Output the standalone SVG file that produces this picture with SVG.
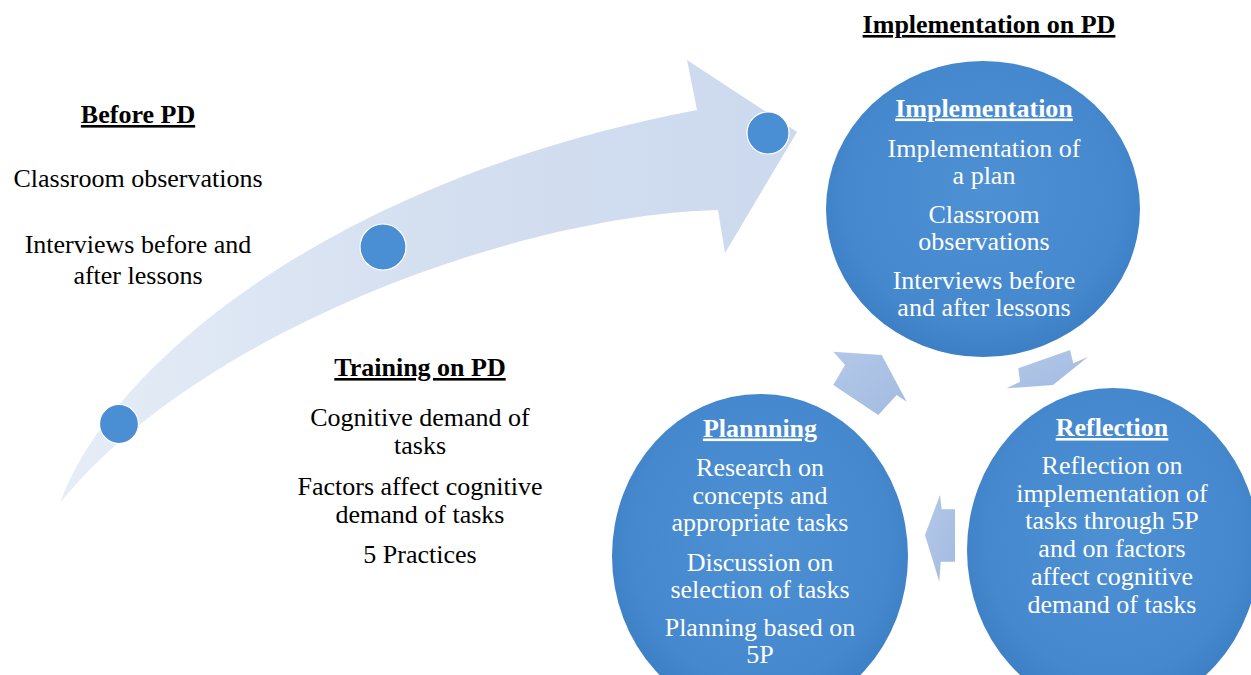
<svg xmlns="http://www.w3.org/2000/svg" width="1251" height="675" viewBox="0 0 1251 675">
<defs>
<linearGradient id="bigArrow" x1="60" y1="0" x2="800" y2="0" gradientUnits="userSpaceOnUse">
<stop offset="0" stop-color="#e6edf7"/>
<stop offset="0.5" stop-color="#d4dff0"/>
<stop offset="1" stop-color="#ccd9ee"/>
</linearGradient>
<radialGradient id="circ" cx="0.5" cy="0.45" r="0.55">
<stop offset="0" stop-color="#4d90d3"/>
<stop offset="0.8" stop-color="#4688ce"/>
<stop offset="1" stop-color="#3c7fc4"/>
</radialGradient>
<linearGradient id="cyc" x1="0" y1="0" x2="1" y2="1">
<stop offset="0" stop-color="#b3c8e8"/>
<stop offset="1" stop-color="#a3bbe2"/>
</linearGradient>
</defs>
<style>
text { font-family: "Liberation Serif", "Times New Roman", serif; font-size: 26px; text-anchor: middle; }
.dark { fill: #000000; }
.light { fill: #ffffff; }
.title { font-weight: bold; text-decoration: underline; }
.dot { fill: #4a8ed3; stroke: #ffffff; stroke-width: 1.2; }
.circle { fill: url(#circ); }
.cyc { fill: url(#cyc); }
</style>
<rect width="1251" height="675" fill="#ffffff"/>

<g id="timeline-arrow">
<path d="M60,503 C110,365 330,180 697,110 L687,60 L797,132 L725,253 L718,210 C520,215 200,330 60,503 Z" fill="url(#bigArrow)"/>
<circle class="dot" cx="119" cy="424" r="19.5"/>
<circle class="dot" cx="383" cy="247" r="23"/>
<circle class="dot" cx="768" cy="133" r="21"/>
</g>

<g id="connectors">
<polygon class="cyc" points="833.3,385 845,365 833.3,351.7 881.7,355 906.7,401.7 896.7,395 878.3,415"/>
<polygon class="cyc" points="1018.3,368.3 1070,350 1073.3,363.3 1088.3,356.7 1053,385 1006.7,388.3 1020,381.7"/>
<polygon class="cyc" points="925,535 940,495 941.7,509.3 955,509.3 955,561.7 940.7,561.7 939.3,581.7"/>
</g>

<g id="before-pd">
<text class="dark title" x="138" y="123">Before PD</text>
<text class="dark" x="138" y="187">Classroom observations</text>
<text class="dark" x="138" y="252.5">Interviews before and</text>
<text class="dark" x="138" y="284">after lessons</text>
</g>

<g id="training-pd">
<text class="dark title" x="420" y="376">Training on PD</text>
<text class="dark" x="420" y="426">Cognitive demand of</text>
<text class="dark" x="420" y="453.5">tasks</text>
<text class="dark" x="420" y="495">Factors affect cognitive</text>
<text class="dark" x="420" y="523">demand of tasks</text>
<text class="dark" x="420" y="563">5 Practices</text>
</g>

<g id="implementation-on-pd">
<text class="dark title" x="989" y="33">Implementation on PD</text>
</g>

<g id="node-implementation">
<ellipse class="circle" cx="983" cy="209" rx="157" ry="148"/>
<text class="light title" x="984" y="116.5">Implementation</text>
<text class="light" x="984" y="156.5">Implementation of</text>
<text class="light" x="984" y="183.5">a plan</text>
<text class="light" x="984" y="222.5">Classroom</text>
<text class="light" x="984" y="249.5">observations</text>
<text class="light" x="984" y="288.5">Interviews before</text>
<text class="light" x="984" y="316">and after lessons</text>
</g>

<g id="node-planning">
<ellipse class="circle" cx="760" cy="556" rx="148" ry="162"/>
<text class="light title" x="760" y="436.5">Plannning</text>
<text class="light" x="760" y="476">Research on</text>
<text class="light" x="760" y="504">concepts and</text>
<text class="light" x="760" y="531">appropriate tasks</text>
<text class="light" x="760" y="570.5">Discussion on</text>
<text class="light" x="760" y="598">selection of tasks</text>
<text class="light" x="760" y="636">Planning based on</text>
<text class="light" x="760" y="663">5P</text>
</g>

<g id="node-reflection">
<ellipse class="circle" cx="1113" cy="550" rx="146" ry="162"/>
<text class="light title" x="1112" y="436">Reflection</text>
<text class="light" x="1112" y="474">Reflection on</text>
<text class="light" x="1112" y="501.5">implementation of</text>
<text class="light" x="1112" y="529">tasks through 5P</text>
<text class="light" x="1112" y="557">and on factors</text>
<text class="light" x="1112" y="585">affect cognitive</text>
<text class="light" x="1112" y="612.5">demand of tasks</text>
</g>
</svg>
